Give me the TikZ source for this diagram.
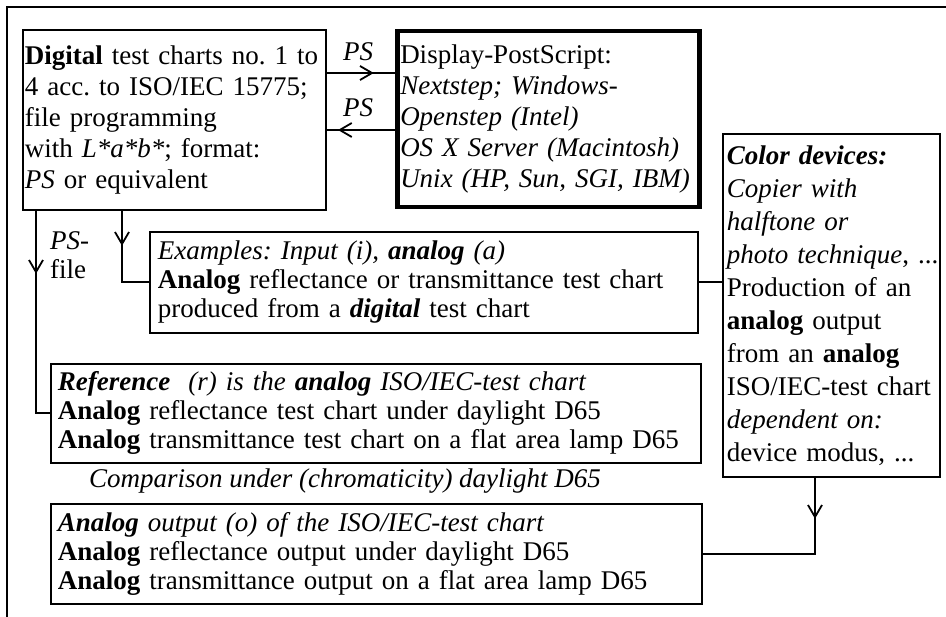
\documentclass[tikz,border=0pt]{standalone}
\usepackage{fontspec}
\setmainfont{Liberation Serif}
\usetikzlibrary{arrows.meta, positioning, decorations.markings}
\frenchspacing

\tikzset{
  chartbox/.style={draw, line width=1.8pt, inner xsep=7pt, inner ysep=0pt,
    align=left, anchor=north west, font=\fontsize{27}{29}\selectfont},
  psbox/.style={chartbox, line width=4.5pt},
  flow/.style={line width=1.8pt},
  tipat/.style={postaction={decorate}, decoration={markings,
    mark=at position #1 with {\arrow{Straight Barb[length=12pt,width=14pt,line width=1.8pt]}}}},
  lbl/.style={font=\fontsize{27}{29}\selectfont, inner sep=0pt},
}

\begin{document}
\begin{tikzpicture}[x=1pt, y=-1pt]
\useasboundingbox (0,0) rectangle (946,617);

% page frame
\coordinate (frametl) at (7,7);
\draw[flow] (7,617) -- (frametl) -- (946,7);

% boxes
\node[chartbox, font=\fontsize{27}{31}\selectfont, inner xsep=2pt, text width=299pt, minimum height=180pt] (digital) at (22,29)
  {\textbf{Digital} test charts no. 1 to\\
   4 acc. to ISO/IEC 15775;\\
   file programming\\
   with \textit{L*a*b*}; format:\\
   \textit{PS} or equivalent};
\node[psbox, font=\fontsize{27}{31}\selectfont, inner xsep=3pt, text width=296pt, minimum height=176pt] (dps) at (395,29)
  {Display-PostScript:\\
   \textit{Nextstep; Windows-}\\
   \textit{Openstep (Intel)}\\
   \textit{OS X Server (Macintosh)}\\
   \textit{Unix (HP, Sun, SGI, IBM)}};
\node[chartbox, inner xsep=8pt, text width=532pt, minimum height=101pt] (examples) at (149,231)
  {\textit{Examples: Input (i), \textbf{analog} (a)}\\
   \textbf{Analog} reflectance or transmittance test chart\\
   produced from a \textbf{\textit{digital}} test chart};
\node[chartbox, font=\fontsize{27}{33}\selectfont, inner xsep=4pt, text width=209pt, minimum height=343pt] (colordev) at (722,133)
  {\textbf{\textit{Color devices:}}\\
   \textit{Copier with}\\
   \textit{halftone or}\\
   \mbox{\textit{photo technique}, ...}\\
   Production of an\\
   \textbf{analog} output\\
   from an \textbf{analog}\\
   ISO/IEC-test chart\\
   \textit{dependent on:}\\
   device modus, ...};
\node[chartbox, text width=636pt, minimum height=99pt] (reference) at (50,363)
  {\textit{\textbf{Reference}\ \ (r) is the \textbf{analog} ISO/IEC-test chart}\\
   \textbf{Analog} reflectance test chart under daylight D65\\
   \textbf{Analog} transmittance test chart on a flat area lamp D65};
\node[lbl] (compare) at (345,481) {\textit{Comparison under (chromaticity) daylight D65}};
\node[chartbox, text width=637pt, minimum height=100pt] (output) at (50,503)
  {\textit{\textbf{Analog} output (o) of the ISO/IEC-test chart}\\
   \textbf{Analog} reflectance output under daylight D65\\
   \textbf{Analog} transmittance output on a flat area lamp D65};

% labels
\node[lbl] (psout) at (358,52) {\textit{PS}};
\node[lbl] (psin) at (358,108) {\textit{PS}};
\node[lbl, align=left, anchor=west] (psfile) at (50,255) {\textit{PS}-\\file};

% connectors
\coordinate (rowout) at (0,73);
\coordinate (rowin) at (0,130);
\coordinate (dropref) at (36,0);
\coordinate (dropex) at (122,0);
\coordinate (dropout) at (815,0);
\draw[flow, tipat=47pt] (digital.east |- rowout) -- (dps.west |- rowout);
\draw[flow, tipat=57pt] (dps.west |- rowin) -- (digital.east |- rowin);
\draw[flow, tipat=63pt] (digital.south -| dropref) |- (reference.west);
\draw[flow, tipat=35pt] (digital.south -| dropex) |- (examples.west);
\draw[flow] (examples.east) -- (examples.east -| colordev.west);
\draw[flow, tipat=41pt] (colordev.south -| dropout) |- (output.east);
\end{tikzpicture}
\end{document}
